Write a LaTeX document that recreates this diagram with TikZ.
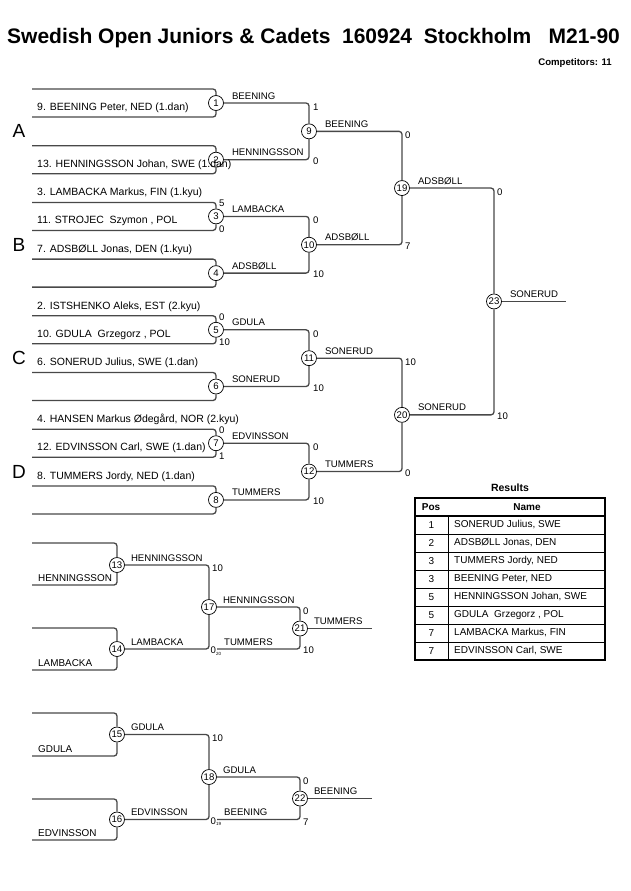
\documentclass[tikz,border=0pt]{standalone}
\usepackage{fontspec}
\setmainfont{Liberation Sans}
\definecolor{bracketgrey}{HTML}{484848}
\definecolor{tableink}{HTML}{000000}
\newcommand{\fromm}[1]{\raisebox{-1.6pt}{\fontsize{4.5}{5}\selectfont#1}}

\begin{document}
\begin{tikzpicture}[
  x=1pt,
  y=-1pt,
  every node/.style={font=\fontsize{9.6}{11}\selectfont, inner sep=0pt},
  bracket/.style={bracketgrey, line width=1.3pt, rounded corners=3pt},
  match/.style={circle, draw=black, line width=0.7pt, fill=white,
                minimum size=15pt, inner sep=0pt},
  entrant/.style={anchor=base west, font=\fontsize{10.5}{12}\selectfont},
  loser/.style={anchor=base west, font=\fontsize{9.9}{11}\selectfont},
  winner/.style={anchor=base west},
  score/.style={anchor=west},
  pool/.style={font=\fontsize{19}{21}\selectfont},
  frame/.style={tableink, line width=1.6pt},
  rule/.style={tableink, line width=0.6pt}
]
  \useasboundingbox (0,0) rectangle (630,891);

  % ---- heading ------------------------------------------------------------
  \node[anchor=base west, font=\bfseries\fontsize{21}{24}\selectfont]
    (title) at (7,44) {Swedish Open Juniors \& Cadets~~160924~~Stockholm~~~M21-90};
  \node[anchor=base east, font=\bfseries\fontsize{9.6}{11}\selectfont]
    (count) at (612,66) {Competitors: 11};

  % ---- first round, pools A to D ------------------------------------------
  \foreach \k in {1,...,8} {
    \node[match] (m\k) at (216,{103+56.7*(\k-1)}) {\k};
    \coordinate (t\k) at (32,{89+56.7*(\k-1)});
    \coordinate (b\k) at (32,{117+56.7*(\k-1)});
    \draw[bracket] (t\k) -| (m\k);
    \draw[bracket] (b\k) -| (m\k);
  }
  \foreach \p/\y in {A/131.35, B/244.75, C/358.15, D/471.55}
    \node[pool] (pool\p) at (19,\y) {\p};

  % ---- later rounds -------------------------------------------------------
  \node[match] (m9)  at (309,131.35) {9};
  \node[match] (m10) at (309,244.75) {10};
  \node[match] (m11) at (309,358.15) {11};
  \node[match] (m12) at (309,471.55) {12};
  \node[match] (m19) at (402,188.05) {19};
  \node[match] (m20) at (402,414.85) {20};
  \node[match] (m23) at (494,301.45) {23};
  \coordinate (o23) at (566,301.45);

  \draw[bracket] (m1) -| (m9);   \draw[bracket] (m2) -| (m9);
  \draw[bracket] (m3) -| (m10);  \draw[bracket] (m4) -| (m10);
  \draw[bracket] (m5) -| (m11);  \draw[bracket] (m6) -| (m11);
  \draw[bracket] (m7) -| (m12);  \draw[bracket] (m8) -| (m12);
  \draw[bracket] (m9) -| (m19);  \draw[bracket] (m10) -| (m19);
  \draw[bracket] (m11) -| (m20); \draw[bracket] (m12) -| (m20);
  \draw[bracket] (m19) -| (m23); \draw[bracket] (m20) -| (m23);
  \draw[bracket] (m23) -- (o23);

  % ---- entrants -----------------------------------------------------------
  \node[entrant] (e9)  at ([xshift=5pt,yshift=6.7pt]b1) {9. BEENING Peter, NED (1.dan)};
  \node[entrant] (e13) at ([xshift=5pt,yshift=6.7pt]b2) {13. HENNINGSSON Johan, SWE (1.dan)};
  \node[entrant] (e3)  at ([xshift=5pt,yshift=6.7pt]t3) {3. LAMBACKA Markus, FIN (1.kyu)};
  \node[entrant] (e11) at ([xshift=5pt,yshift=6.7pt]b3) {11. STROJEC\ \ Szymon , POL};
  \node[entrant] (e7)  at ([xshift=5pt,yshift=6.7pt]t4) {7. ADSBØLL Jonas, DEN (1.kyu)};
  \node[entrant] (e2)  at ([xshift=5pt,yshift=6.7pt]t5) {2. ISTSHENKO Aleks, EST (2.kyu)};
  \node[entrant] (e10) at ([xshift=5pt,yshift=6.7pt]b5) {10. GDULA\ \ Grzegorz , POL};
  \node[entrant] (e6)  at ([xshift=5pt,yshift=6.7pt]t6) {6. SONERUD Julius, SWE (1.dan)};
  \node[entrant] (e4)  at ([xshift=5pt,yshift=6.7pt]t7) {4. HANSEN Markus Ødegård, NOR (2.kyu)};
  \node[entrant] (e12) at ([xshift=5pt,yshift=6.7pt]b7) {12. EDVINSSON Carl, SWE (1.dan)};
  \node[entrant] (e8)  at ([xshift=5pt,yshift=6.7pt]t8) {8. TUMMERS Jordy, NED (1.dan)};

  % ---- winners ------------------------------------------------------------
  \foreach \k/\w in {1/BEENING, 2/HENNINGSSON, 3/LAMBACKA, 4/ADSBØLL,
                     5/GDULA, 6/SONERUD, 7/EDVINSSON, 8/TUMMERS,
                     9/BEENING, 10/ADSBØLL, 11/SONERUD, 12/TUMMERS,
                     19/ADSBØLL, 20/SONERUD, 23/SONERUD}
    \node[winner] (w\k) at ([xshift=8pt,yshift=4pt]m\k.east) {\w};

  % ---- scores -------------------------------------------------------------
  \node[score] (s3a)  at (219,203.5) {5};
  \node[score] (s3b)  at (219,229.5) {0};
  \node[score] (s5a)  at (219,317)   {0};
  \node[score] (s5b)  at (219,342.5) {10};
  \node[score] (s7a)  at (219,430.5) {0};
  \node[score] (s7b)  at (219,456)   {1};
  \node[score] (s9a)  at (313,107)   {1};
  \node[score] (s9b)  at (313,161)   {0};
  \node[score] (s10a) at (313,220.5) {0};
  \node[score] (s10b) at (313,274.5) {10};
  \node[score] (s11a) at (313,334)   {0};
  \node[score] (s11b) at (313,388)   {10};
  \node[score] (s12a) at (313,447)   {0};
  \node[score] (s12b) at (313,501)   {10};
  \node[score] (s19a) at (405,135.5) {0};
  \node[score] (s19b) at (405,246)   {7};
  \node[score] (s20a) at (405,362.5) {10};
  \node[score] (s20b) at (405,473)   {0};
  \node[score] (s23a) at (497,192.5) {0};
  \node[score] (s23b) at (497,416)   {10};

  % ---- repechage ----------------------------------------------------------
  \node[match] (m13) at (117,565)   {13};
  \node[match] (m14) at (117,649)   {14};
  \node[match] (m17) at (209,607)   {17};
  \node[match] (m21) at (300,628.5) {21};
  \node[match] (m15) at (117,734.5) {15};
  \node[match] (m16) at (117,819.5) {16};
  \node[match] (m18) at (209,777)   {18};
  \node[match] (m22) at (300,798.5) {22};
  \coordinate (l20) at (217,649);
  \coordinate (l19) at (217,819.5);
  \coordinate (o21) at (372,628.5);
  \coordinate (o22) at (372,798.5);
  \foreach \k/\yt/\yb in {13/543/585, 14/628/670, 15/713/756, 16/799/840} {
    \coordinate (rt\k) at (32,\yt);
    \coordinate (rb\k) at (32,\yb);
    \draw[bracket] (rt\k) -| (m\k);
    \draw[bracket] (rb\k) -| (m\k);
  }
  \draw[bracket] (m13) -| (m17); \draw[bracket] (m14) -| (m17);
  \draw[bracket] (m17) -| (m21); \draw[bracket] (l20) -| (m21);
  \draw[bracket] (m21) -- (o21);
  \draw[bracket] (m15) -| (m18); \draw[bracket] (m16) -| (m18);
  \draw[bracket] (m18) -| (m22); \draw[bracket] (l19) -| (m22);
  \draw[bracket] (m22) -- (o22);

  \node[loser] (r13) at ([xshift=6pt,yshift=4pt]rb13) {HENNINGSSON};
  \node[loser] (r14) at ([xshift=6pt,yshift=4pt]rb14) {LAMBACKA};
  \node[loser] (r15) at ([xshift=6pt,yshift=4pt]rb15) {GDULA};
  \node[loser] (r16) at ([xshift=6pt,yshift=4pt]rb16) {EDVINSSON};
  \foreach \k/\w in {13/HENNINGSSON, 14/LAMBACKA, 17/HENNINGSSON, 21/TUMMERS,
                     15/GDULA, 16/EDVINSSON, 18/GDULA, 22/BEENING}
    \node[winner] (w\k) at ([xshift=6pt,yshift=4pt]m\k.east) {\w};
  \node[winner] (w20l) at ([xshift=7pt,yshift=4pt]l20) {TUMMERS};
  \node[winner] (w19l) at ([xshift=7pt,yshift=4pt]l19) {BEENING};

  \node[score] (s17a) at (212,568.5) {10};
  \node[score] (s17b) at (210.5,651) {0\fromm{20}};
  \node[score] (s21a) at (303,611.5) {0};
  \node[score] (s21b) at (303,650.5) {10};
  \node[score] (s18a) at (212,738)   {10};
  \node[score] (s18b) at (210.5,821.5) {0\fromm{19}};
  \node[score] (s22a) at (303,781.5) {0};
  \node[score] (s22b) at (303,822)   {7};

  % ---- results table ------------------------------------------------------
  \node[font=\bfseries\fontsize{10.5}{12}\selectfont] (restitle) at (510,488) {Results};
  \foreach \r in {1,...,7}
    \draw[rule] (415,{516+18*\r}) -- (605,{516+18*\r});
  \draw[rule] (448,516) -- (448,660);
  \draw[frame] (415,516) -- (605,516);
  \draw[frame] (415,498) rectangle (605,660);
  \node[font=\bfseries\fontsize{10}{11}\selectfont] (hpos)  at (431,507) {Pos};
  \node[font=\bfseries\fontsize{10}{11}\selectfont] (hname) at (527,507) {Name};
  \foreach \p/\n [count=\i] in {1/{SONERUD Julius, SWE}, 2/{ADSBØLL Jonas, DEN},
      3/{TUMMERS Jordy, NED}, 3/{BEENING Peter, NED},
      5/{HENNINGSSON Johan, SWE}, 5/{GDULA\ \ Grzegorz , POL},
      7/{LAMBACKA Markus, FIN}, 7/{EDVINSSON Carl, SWE}} {
    \node[font=\fontsize{10}{11}\selectfont] (pos\i) at (431.5,{525+18*(\i-1)}) {\p};
    \node[anchor=west, font=\fontsize{10}{11}\selectfont] (nm\i) at (454,{525+18*(\i-1)}) {\n};
  }
\end{tikzpicture}
\end{document}
